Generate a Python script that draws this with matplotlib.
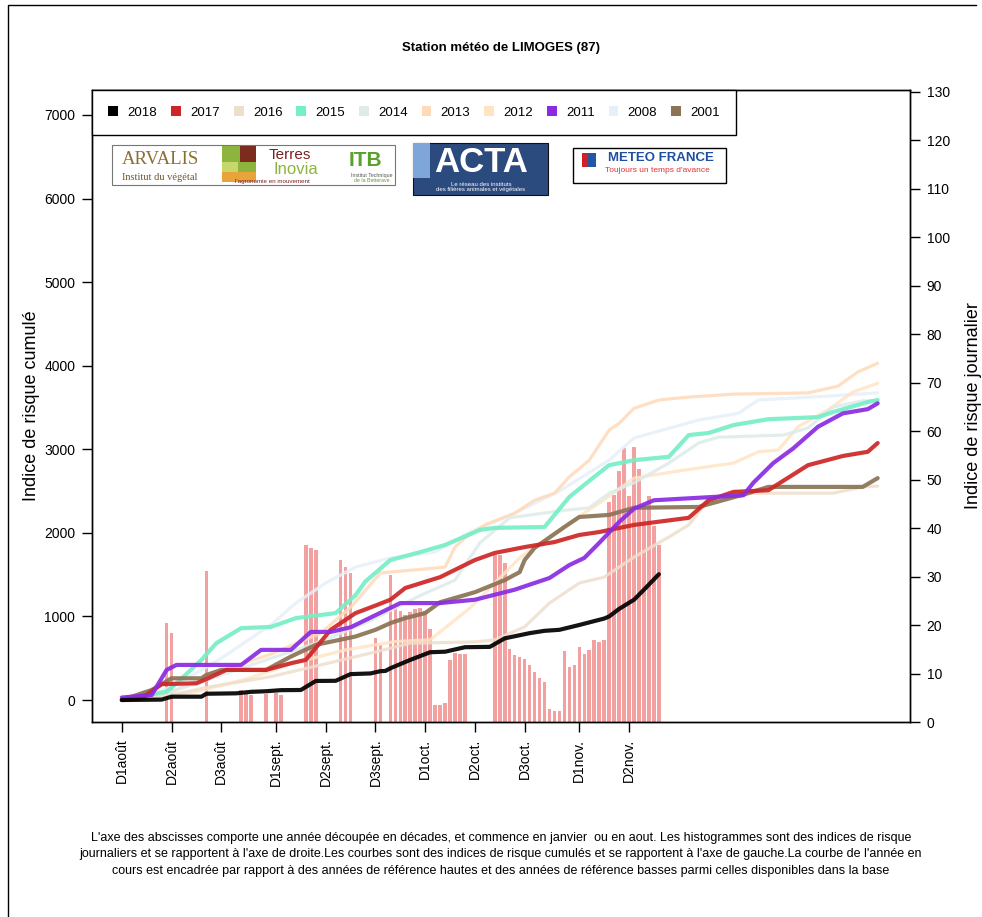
import numpy as np
import matplotlib.pyplot as plt
from matplotlib.patches import Patch, Rectangle
from matplotlib.lines import Line2D

plt.rcParams['font.family'] = ['Liberation Sans', 'DejaVu Sans']

W, H = 982, 917

# x axis = days counted from 1 August (decade ticks)
tick_days = [0, 10, 20, 31, 41, 51, 61, 71, 81, 92, 102]
tick_labels = ["D1août", "D2août", "D3août", "D1sept.", "D2sept.", "D3sept.",
               "D1oct.", "D2oct.", "D3oct.", "D1nov.", "D2nov."]

# daily risk index of the current year (right axis)
bar_days = [9, 10, 17, 24, 25, 26, 29, 31, 32, 37, 38, 39, 44, 45, 46, 51, 52,
            54, 55, 56, 57, 58, 59, 60, 61, 62, 63, 64, 65, 66, 67, 68, 69,
            75, 76, 77, 78, 79, 80, 81, 82, 83, 84, 85, 86, 87, 88, 89, 90, 91,
            92, 93, 94, 95, 96, 97, 98, 99, 100, 101, 102, 103, 104, 105, 106,
            107, 108]
bar_vals = [20.4, 18.4, 31.2, 6.7, 6.0, 5.6, 5.8, 6.0, 5.6, 36.5, 36.0, 35.5,
            33.4, 31.9, 30.8, 17.3, 15.9,
            30.3, 23.5, 22.9, 22.1, 22.6, 23.3, 23.5, 23.0, 19.2, 3.6, 3.6, 4.0,
            12.8, 14.3, 14.0, 14.0,
            34.5, 34.5, 32.9, 15.0, 13.8, 13.5, 13.0, 11.8, 10.4, 9.0, 8.3, 2.6,
            2.3, 2.3, 14.7, 11.3, 11.8,
            15.4, 14.0, 14.9, 16.9, 16.6, 16.9, 45.3, 46.8, 51.7, 56.5, 46.6,
            56.7, 52.3, 45.0, 46.6, 40.5, 36.5]

# cumulative risk index per year (left axis)
years = ["2018", "2017", "2016", "2015", "2014", "2013", "2012", "2011", "2008", "2001"]
colors = ["#000000", "#CD2626", "#EEDFCC", "#76EEC6", "#DDEBEB",
          "#FFDAB9", "#FFE4C4", "#8A2BE2", "#E6F0FA", "#8B7355"]

d_2018 = [0, 8, 10, 16, 17, 23, 26, 29, 32, 36, 39, 43, 46, 50, 52, 53, 54, 58, 62, 65,
          69, 74, 77, 82, 85, 88, 92, 97, 98, 100, 103, 105, 108]
c_2018 = [0, 5, 40, 40, 75, 80, 98, 105, 118, 120, 228, 230, 310, 318, 345, 348, 380,
          480, 572, 578, 632, 636, 738, 800, 828, 840, 898, 975, 1000, 1090, 1200, 1320, 1505]

d_2017 = [0, 4, 8, 15, 17, 21, 29, 34, 37, 42, 47, 51, 54, 57, 64, 71, 75, 81, 87, 92,
          96, 103, 114, 118, 123, 130, 138, 145, 150, 152]
c_2017 = [0, 20, 190, 200, 250, 360, 360, 440, 480, 840, 1040, 1130, 1200, 1340, 1470,
          1675, 1760, 1830, 1890, 1975, 2010, 2095, 2180, 2390, 2490, 2510, 2810, 2920,
          2970, 3075]

d_2016 = [0, 10, 17, 22, 30, 40, 51, 58, 71, 75, 81, 86, 92, 97, 103, 110, 114, 118,
          123, 143, 149, 152]
c_2016 = [0, 60, 150, 200, 280, 420, 575, 680, 695, 720, 875, 1160, 1400, 1470, 1710,
          1950, 2095, 2390, 2475, 2475, 2550, 2560]

d_2015 = [0, 9, 11, 16, 19, 24, 30, 35, 43, 47, 49, 54, 60, 65, 72, 75, 85, 90, 95, 98,
          103, 110, 114, 118, 123, 130, 140, 143, 150, 152]
c_2015 = [0, 100, 200, 480, 680, 860, 875, 980, 1040, 1255, 1420, 1675, 1770, 1855,
          2035, 2060, 2070, 2430, 2670, 2810, 2870, 2910, 3170, 3195, 3290, 3360, 3385,
          3445, 3565, 3590]

d_2014 = [0, 10, 20, 30, 40, 50, 60, 67, 72, 78, 89, 94, 98, 103, 110, 116, 120, 133,
          138, 143, 149, 152]
c_2014 = [0, 100, 300, 500, 700, 950, 1250, 1435, 1880, 2180, 2270, 2300, 2475, 2600,
          2835, 3075, 3145, 3170, 3255, 3505, 3580, 3580]

d_2013 = [0, 10, 20, 30, 40, 46, 52, 65, 67, 69, 73, 79, 83, 87, 90, 94, 98, 100, 103,
          108, 114, 123, 138, 144, 148, 152]
c_2013 = [0, 100, 350, 550, 800, 1110, 1520, 1590, 1830, 1940, 2095, 2235, 2390, 2475,
          2670, 2870, 3230, 3310, 3490, 3590, 3625, 3660, 3675, 3755, 3925, 4030]

d_2012 = [0, 15, 25, 35, 45, 55, 62, 70, 75, 80, 86, 92, 96, 103, 113, 123, 128, 132,
          136, 142, 147, 152]
c_2012 = [0, 100, 250, 450, 600, 700, 720, 1100, 1400, 1700, 1950, 2200, 2355, 2655,
          2750, 2835, 2970, 2990, 3270, 3470, 3685, 3790]

d_2011 = [0, 6, 9, 11, 24, 28, 34, 38, 42, 46, 51, 56, 64, 71, 79, 86, 90, 93, 96, 100,
          103, 107, 125, 127, 131, 135, 140, 145, 150, 152]
c_2011 = [30, 60, 360, 420, 420, 600, 600, 815, 815, 870, 1015, 1160, 1160, 1200, 1320,
          1460, 1615, 1700, 1880, 2130, 2290, 2390, 2450, 2600, 2835, 3010, 3270, 3430,
          3480, 3550]

d_2008 = [0, 10, 20, 30, 35, 41, 47, 54, 63, 70, 79, 88, 98, 103, 116, 124, 128, 143, 152]
c_2008 = [0, 150, 500, 900, 1160, 1400, 1590, 1700, 1770, 2010, 2235, 2500, 2870, 3135,
          3350, 3430, 3590, 3640, 3675]

d_2001 = [0, 5, 6, 10, 16, 17, 20, 29, 34, 39, 47, 51, 54, 57, 61, 64, 71, 77, 80, 81,
          83, 89, 92, 98, 103, 116, 126, 130, 149, 152]
c_2001 = [0, 100, 120, 260, 260, 300, 360, 360, 520, 660, 760, 840, 920, 980, 1040,
          1170, 1290, 1435, 1530, 1675, 1820, 2070, 2190, 2215, 2300, 2310, 2475, 2550,
          2550, 2655]

curves = {
    "2018": (d_2018, c_2018), "2017": (d_2017, c_2017), "2016": (d_2016, c_2016),
    "2015": (d_2015, c_2015), "2014": (d_2014, c_2014), "2013": (d_2013, c_2013),
    "2012": (d_2012, c_2012), "2011": (d_2011, c_2011), "2008": (d_2008, c_2008),
    "2001": (d_2001, c_2001),
}
col = dict(zip(years, colors))


def fx(x):
    return x / W


def fy(y):
    return 1 - y / H


fig = plt.figure(figsize=(W / 100, H / 100), dpi=100)
ax = fig.add_axes([fx(92), fy(722), (910 - 92) / W, (722 - 90) / H])

# bars on the right-hand axis, kept behind the curves
ax2 = ax.twinx()
ax2.bar(bar_days, bar_vals, width=0.72, color='lightcoral', alpha=0.75, linewidth=0)
ax2.set_ylim(0, 130.4)
ax2.set_yticks(range(0, 131, 10))
ax2.tick_params(direction='out', length=7, width=1, labelsize=10, pad=5)
ax2.set_ylabel("Indice de risque journalier", fontsize=13, labelpad=11)
ax.set_zorder(ax2.get_zorder() + 1)
ax.patch.set_visible(False)

# pale reference years first, then the strong ones, current year on top
draw_order = ["2008", "2012", "2013", "2014", "2016", "2015", "2001", "2017", "2011", "2018"]
for yr in draw_order:
    d, c = curves[yr]
    thick = yr in ("2018", "2017", "2015", "2011", "2001")
    ax.plot(d, c, color=col[yr], lw=3.0 if thick else 2.3, alpha=0.92 if thick else 0.85,
            solid_capstyle='round', solid_joinstyle='round')

ax.set_xlim(-6.0, 158.5)
ax.set_ylim(-263, 7299)
ax.set_yticks(range(0, 7001, 1000))
ax.set_xticks(tick_days)
ax.set_xticklabels(tick_labels, rotation=90, va='top', ha='center')
ax.tick_params(direction='out', length=7, width=1, labelsize=10, pad=5)
ax.tick_params(axis='x', pad=5)
ax.set_ylabel("Indice de risque cumulé", fontsize=13, labelpad=3)

for a in (ax, ax2):
    for s in a.spines.values():
        s.set_linewidth(1.0)

handles = [Patch(facecolor=col[y], edgecolor='none') for y in years]
leg = ax.legend(handles, years, ncol=10, loc='upper left', bbox_to_anchor=(0, 1),
                borderaxespad=0, frameon=True, fancybox=False, edgecolor='black',
                fontsize=9.5, handlelength=0.75, handleheight=0.75, handletextpad=0.7,
                columnspacing=1.05, borderpad=1.25)
leg.get_frame().set_linewidth(1.0)
leg.get_frame().set_alpha(1.0)

fig.text(fx(501), fy(48), "Station météo de LIMOGES (87)", ha='center', va='center',
         fontsize=9.5, fontweight='bold')


# partner logos, drawn as simple boxes with text
def rect(x0, y0, x1, y1, **kw):
    fig.add_artist(Rectangle((fx(x0), fy(y1)), (x1 - x0) / W, (y1 - y0) / H,
                             transform=fig.transFigure, **kw))


rect(112, 145, 395, 185, fc='white', ec='#777777', lw=0.8)
fig.text(fx(160), fy(160), "ARVALIS", family=['Liberation Serif', 'DejaVu Serif'],
         fontsize=13.5, color='#8C6D33', ha='center', va='center')
fig.text(fx(160), fy(178), "Institut du végétal", family=['Liberation Serif', 'DejaVu Serif'],
         fontsize=7.5, color='#6B5530', ha='center', va='center')
rect(222, 146, 240, 162, fc='#8DB43C', ec='none')
rect(240, 146, 256, 162, fc='#7B2C1C', ec='none')
rect(222, 162, 238, 172, fc='#C7D86A', ec='none')
rect(238, 162, 256, 172, fc='#8DB43C', ec='none')
rect(222, 172, 256, 182, fc='#E8A33A', ec='none')
fig.text(fx(290), fy(155), "Terres", fontsize=11, color='#7A2020', ha='center', va='center')
fig.text(fx(296), fy(169), "Inovia", fontsize=12, color='#8DB43C', ha='center', va='center')
fig.text(fx(272), fy(181), "l'agronomie en mouvement", fontsize=4.5, color='#7A2020',
         ha='center', va='center')
fig.text(fx(349), fy(160), "ITB", fontsize=15, fontweight='bold', color='#5AA02C',
         ha='left', va='center')
fig.text(fx(372), fy(176), "Institut Technique", fontsize=3.8, color='#555555',
         ha='center', va='center')
fig.text(fx(372), fy(181), "de la Betterave", fontsize=3.8, color='#5AA02C',
         ha='center', va='center')

rect(413, 143, 548, 195, fc='#2B4A7E', ec='#111111', lw=0.8)
rect(413, 143, 430, 178, fc='#7EA6D8', ec='none')
fig.text(fx(481), fy(163), "ACTA", fontsize=25, fontweight='bold', color='white',
         ha='center', va='center')
fig.text(fx(481), fy(184), "Le réseau des instituts", fontsize=4.3, color='white',
         ha='center', va='center')
fig.text(fx(481), fy(190), "des filières animales et végétales", fontsize=4.3,
         color='white', ha='center', va='center')

rect(573, 148, 726, 183, fc='white', ec='black', lw=1.0)
rect(582, 153, 596, 167, fc='#2456A6', ec='none')
rect(582, 153, 588, 167, fc='#D0202A', ec='none')
fig.text(fx(661), fy(158), "METEO FRANCE", fontsize=9.5, fontweight='bold',
         color='#1F4FA0', ha='center', va='center')
fig.text(fx(657), fy(171), "Toujours un temps d'avance", fontsize=6, color='#E0303A',
         ha='center', va='center')

foot = ["L'axe des abscisses comporte une année découpée en décades, et commence en janvier  ou en aout. Les histogrammes sont des indices de risque",
        "journaliers et se rapportent à l'axe de droite.Les courbes sont des indices de risque cumulés et se rapportent à l'axe de gauche.La courbe de l'année en",
        "cours est encadrée par rapport à des années de référence hautes et des années de référence basses parmi celles disponibles dans la base"]
for i, line in enumerate(foot):
    fig.text(fx(501), fy(838 + 16.5 * i), line, ha='center', va='center', fontsize=9,
             family=['Liberation Sans Narrow', 'Liberation Sans', 'DejaVu Sans'])

# outer frame of the page (left and top edges)
fig.add_artist(Line2D([fx(8), fx(8), fx(976)], [fy(917), fy(5), fy(5)],
                      transform=fig.transFigure, color='black', lw=1.0))

fig.savefig("out.png", dpi=100)
